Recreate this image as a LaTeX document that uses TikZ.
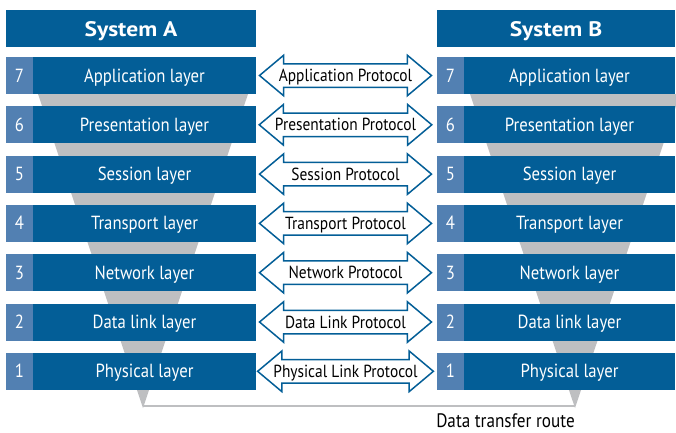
\documentclass[tikz,border=0pt]{standalone}
\usepackage{fontspec}
\setmainfont{PT Sans}[FakeStretch=0.88]
\newfontfamily\headfont{PT Sans}[FakeStretch=1.12]
\usetikzlibrary{shapes.arrows}
\definecolor{osiblue}{RGB}{3,94,151}
\definecolor{numblue}{RGB}{82,128,178}
\definecolor{funnelgray}{RGB}{190,191,193}
\begin{document}
\begin{tikzpicture}[x=1pt,y=-1pt,
    every node/.append style={inner sep=0pt, text=white},
    header/.style={fill=osiblue, minimum height=37pt, text height=17pt, text depth=2pt,
        font=\headfont\fontsize{21}{21}\selectfont\bfseries},
    layerbox/.style={fill=osiblue, minimum height=37pt, text height=16pt, text depth=3pt,
        font=\fontsize{19}{19}\selectfont},
    numbox/.style={fill=numblue, minimum width=27pt, minimum height=37pt, text height=16pt,
        text depth=3pt, font=\fontsize{19}{19}\selectfont},
    protocol/.style={double arrow, draw=osiblue, line width=1.5pt, fill=white, text=black,
        minimum height=172pt, double arrow head extend=8.5pt, double arrow tip angle=80,
        inner xsep=1pt, inner ysep=2.5pt, text height=14.5pt, text depth=2.5pt,
        font=\fontsize{17.5}{17.5}\selectfont}]
    \useasboundingbox (0,0) rectangle (676,432);
    % funnels and the route between them
    \coordinate (tipA) at (143,406);
    \coordinate (tipB) at (575,406);
    \fill[funnelgray] (38,94) -- (248,94) -- (143,408) -- cycle;
    \fill[funnelgray] (470,94) -- (680,94) -- (575,408) -- cycle;
    \draw[funnelgray, line width=2.5pt] (tipA) -- (tipB);
    % headers
    \node[header, minimum width=250pt] (sysA) at (131,28.5) {System A};
    \node[header, minimum width=238pt] (sysB) at (556,28.5) {System B};
    % layers
    \foreach \n/\lay/\prot in {7/Application/Application, 6/Presentation/Presentation,
        5/Session/Session, 4/Transport/Transport, 3/Network/Network,
        2/Data link/Data Link, 1/Physical/Physical Link} {
        \pgfmathsetmacro{\yy}{75.5+(7-\n)*49.3}
        \node[numbox] (numA\n) at (19.5,\yy) {\n};
        \node[layerbox, minimum width=223pt] (layA\n) at (144.5,\yy) {\lay{} layer};
        \node[numbox] (numB\n) at (450.5,\yy) {\n};
        \node[layerbox, minimum width=211pt] (layB\n) at (569.5,\yy) {\lay{} layer};
        \node[protocol] (prot\n) at (345.5,\yy) {\prot{} Protocol};
    }
    \node[text=black, font=\fontsize{19.5}{19.5}\selectfont] (route) at (505.5,421) {Data transfer route};
\end{tikzpicture}
\end{document}
